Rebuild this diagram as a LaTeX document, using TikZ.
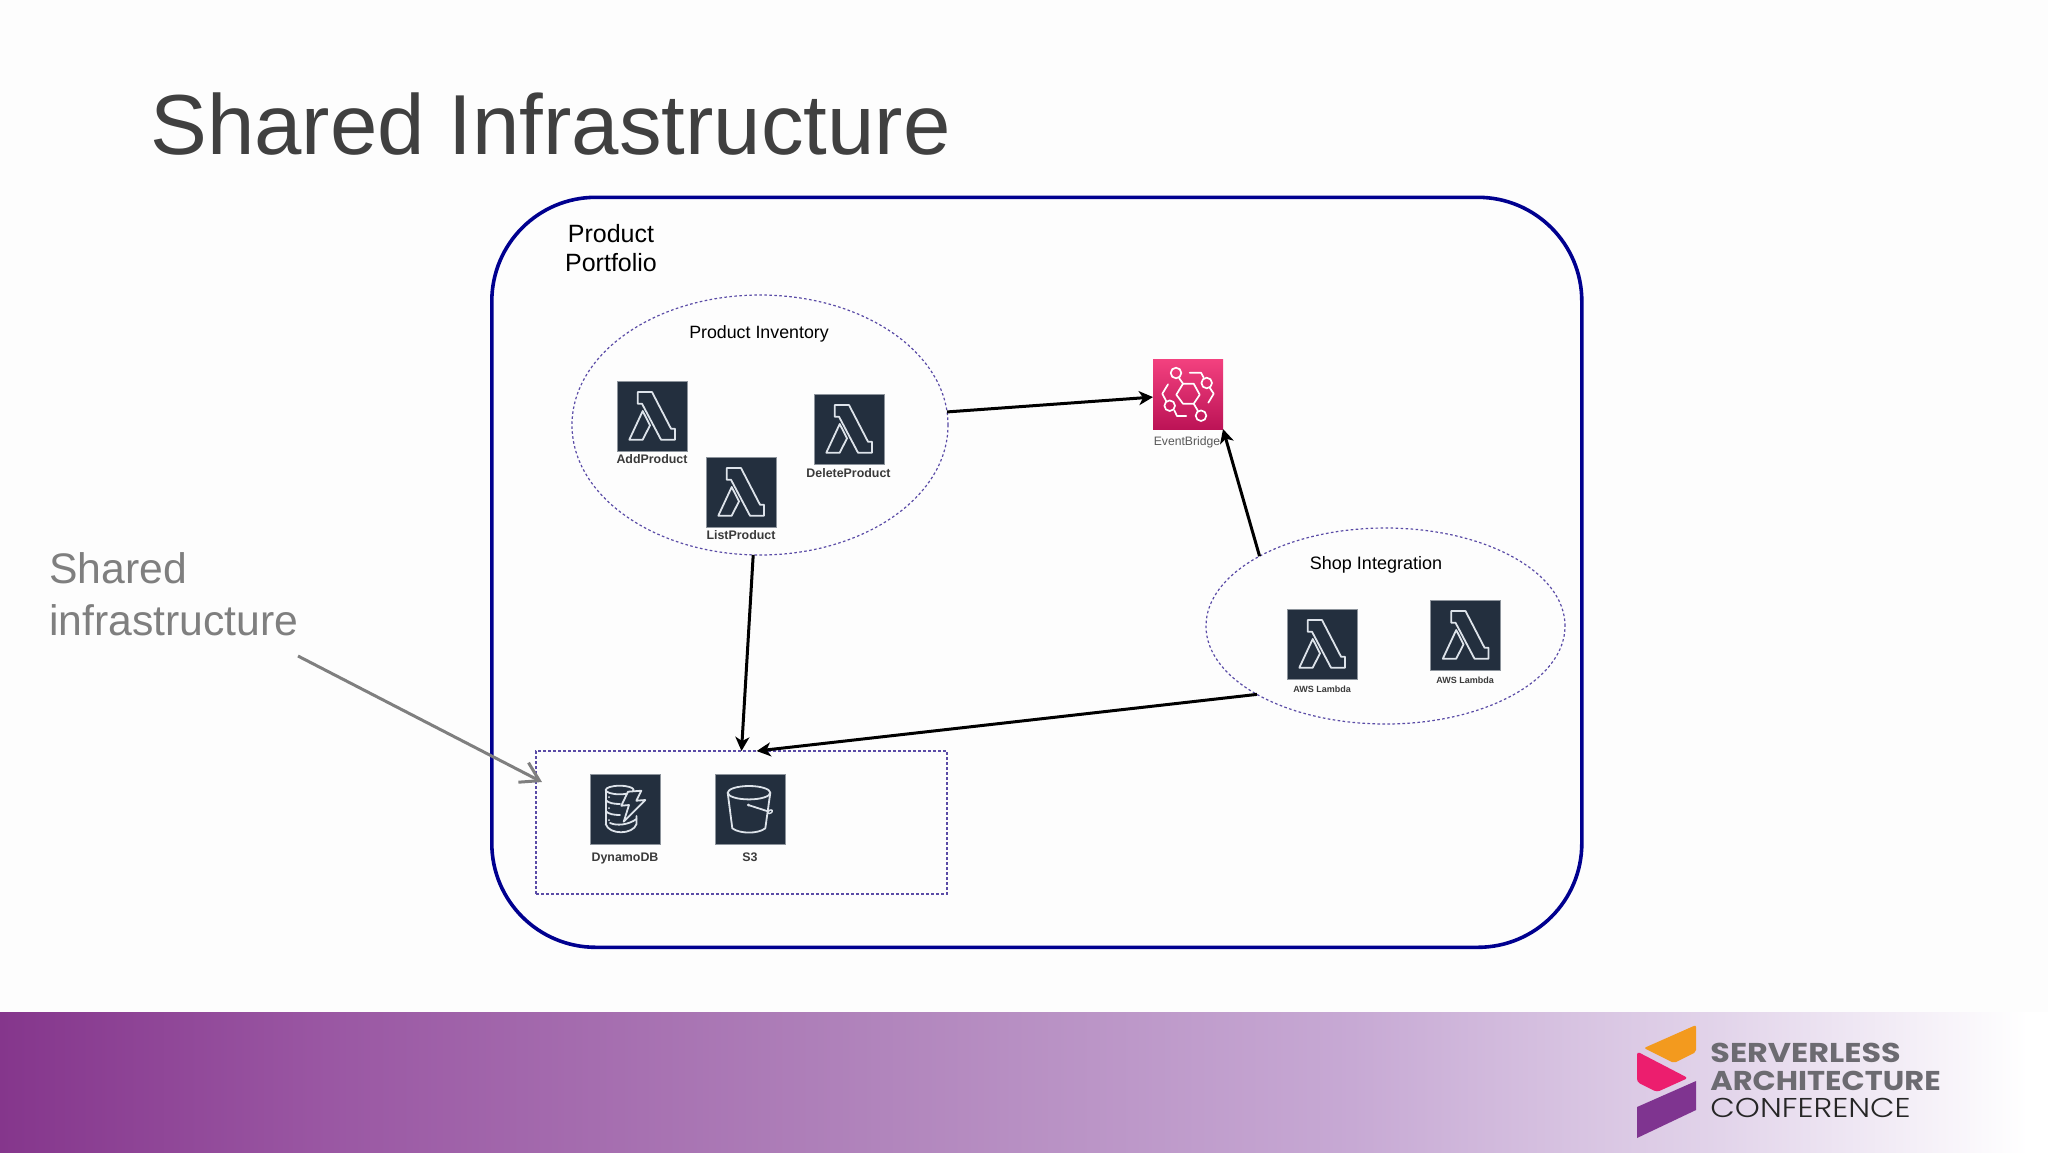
\documentclass[tikz,border=0pt]{standalone}
\usepackage{fontspec}
\setmainfont{Liberation Sans}
\newfontfamily\logoA[FakeStretch=1.17]{Poppins}
\newfontfamily\logoB[FakeStretch=1.12]{Poppins}
\newfontfamily\logoC[FakeStretch=1.17]{Poppins Light}
\usetikzlibrary{arrows.meta,shapes.geometric}
\definecolor{iconbg}{HTML}{232F3E}
\definecolor{iconln}{HTML}{DDE3EA}
\definecolor{iconedge}{HTML}{8D949C}
\definecolor{dots}{HTML}{5A4BA6}
\definecolor{outerblue}{HTML}{00008F}
\definecolor{titlegray}{HTML}{404040}
\definecolor{notegray}{HTML}{7F7F7F}
\definecolor{lblgray}{HTML}{3A3A3A}
\definecolor{logogray}{HTML}{6C6B71}
\definecolor{bandA}{HTML}{85368C}
\definecolor{bandB}{HTML}{9A57A3}
\definecolor{bandC}{HTML}{B083BB}
\definecolor{bandD}{HTML}{C7A9D4}
\definecolor{bandE}{HTML}{E2D4EA}
\definecolor{bandF}{HTML}{FFFFFF}
\definecolor{ebT}{HTML}{F3417F}
\definecolor{ebB}{HTML}{BC1356}
\definecolor{logoO}{HTML}{F39A1E}
\definecolor{logoP}{HTML}{EC1E6E}
\definecolor{logoV}{HTML}{7F3490}
\pgfdeclarehorizontalshading{bandshade}{100bp}{color(0bp)=(bandA);color(25bp)=(bandA);color(33bp)=(bandB);color(46bp)=(bandC);color(58bp)=(bandD);color(67bp)=(bandE);color(74.5bp)=(bandF);color(100bp)=(bandF)}
\pgfdeclareverticalshading{ebshade}{100bp}{color(0bp)=(ebB);color(25bp)=(ebB);color(75bp)=(ebT);color(100bp)=(ebT)}
\tikzset{
  x=0.5pt,y=-0.5pt,
  iconbox/.style={draw=iconedge,line width=0.4pt,fill=iconbg,minimum size=35pt,inner sep=0pt,outer sep=0pt},
  ebbox/.style={shade,shading=ebshade,minimum size=35pt,inner sep=0pt,outer sep=0pt},
  glyph/.style={draw=iconln,line width=0.9pt,line join=round,line cap=round},
  ebglyph/.style={draw=white,line width=0.85pt,line join=round,line cap=round},
  svc/.style={font=\fontsize{6.2}{7}\selectfont\bfseries,text=lblgray,inner sep=0pt},
  svcsmall/.style={font=\fontsize{4.5}{5}\selectfont\bfseries,text=lblgray,inner sep=0pt},
  grp/.style={font=\fontsize{9}{11}\selectfont,text=black,inner sep=0pt},
  dotted group/.style={draw=dots,line width=0.6pt,dash pattern=on 1.3pt off 1.2pt},
  grpell/.style={ellipse,dotted group,inner sep=0pt,outer sep=0pt},
  link/.style={draw=black,line width=1.5pt,-{Stealth[length=7pt,width=7pt,inset=2pt]}},
  lambdaglyph/.pic={
    \draw[glyph] (20.7,11)--(35,11)--(54,47.7)--(58,47.7)--(58,58.7)--(44,58.7)--(25,22.7)--(20.7,22.7)--cycle;
    \draw[glyph] (12.3,58.7)--(25.7,30)--(33,44.3)--(25.7,58.7)--cycle;
  },
  ebglyphs/.pic={
    \draw[ebglyph] (23.3,35.7)--(30,24.7)--(40.7,24.7)--(46.7,35.7)--(40.7,44.7)--(30,44.7)--cycle;
    \draw[ebglyph] (23,14) circle[radius=5.3];
    \draw[ebglyph] (53.7,24) circle[radius=5.3];
    \draw[ebglyph] (16.7,46.7) circle[radius=5.3];
    \draw[ebglyph] (48,56.7) circle[radius=5.3];
    \draw[ebglyph] (26,19)--(30,24.7);
    \draw[ebglyph] (40.7,44.7)--(45,52);
    \draw[ebglyph] (36.7,13.7)--(48,13.7)--(50.7,18.7);
    \draw[ebglyph] (56.7,28.7)--(60.7,34.7)--(55.3,43.7);
    \draw[ebglyph] (15,25.3)--(9.3,34.7)--(13.3,42.3);
    \draw[ebglyph] (21.3,51.3)--(24,57)--(33.3,57);
  },
  dynamoglyph/.pic={
    \draw[glyph] (29.7,16) ellipse[x radius=14,y radius=4.3];
    \draw[glyph] (15.7,16)--(15.7,50);
    \draw[glyph] (15.7,26) .. controls (18,29) and (24,30) .. (30,30);
    \draw[glyph] (15.7,37) .. controls (18,40) and (24,41) .. (30,41);
    \draw[glyph] (15.7,50) .. controls (19,61) and (43,61) .. (46.5,50)--(46.5,42);
    \draw[glyph] (20,49) .. controls (27,52) and (38,51) .. (46.5,45);
    \fill[iconln] (19,23) circle[radius=1] (19,34) circle[radius=1] (19,46) circle[radius=1];
    \draw[glyph,fill=iconbg] (38,17.7)--(51.3,16.7)--(46.3,26.7)--(55.3,26)--(33.7,47.7)--(39,31)--(31.3,31.7)--cycle;
  },
  bucketglyph/.pic={
    \draw[glyph] (34,18.7) ellipse[x radius=21.3,y radius=6.7];
    \draw[glyph] (12.7,18.7)--(17.3,54.3) .. controls (25,60) and (43,60) .. (50.3,54.3)--(55.3,18.7);
    \draw[glyph] (33.3,31)--(53.5,37.5);
    \fill[iconln] (33.3,31) circle[radius=1.5];
    \draw[iconln,line width=0.7pt] (55,37.7) ellipse[x radius=2.5,y radius=1.5,rotate=30];
  },
}
\begin{document}
\begin{tikzpicture}
\useasboundingbox (0,0) rectangle (2048,1152);
\fill[white!99.4!black] (0,0) rectangle (2048,1152);
% band
\shade[shading=bandshade] (0,1012) rectangle (2048,1152);
% title
\node[anchor=base west,inner sep=0pt,text=titlegray,font=\fontsize{42.6}{50}\selectfont] (title) at (150,154.5) {Shared Infrastructure};
% outer container
\node[draw=outerblue,line width=1.8pt,rounded corners=52pt,minimum width=545pt,minimum height=375pt,inner sep=0pt,outer sep=0pt] (outer) at (1036.8,572.3) {};
\node[font=\fontsize{12.5}{14.7}\selectfont,align=center,inner sep=0pt,text=black] (portfolio) at (611,248.3) {Product\\Portfolio};
% groups
\node[grpell,minimum width=188pt,minimum height=130pt] (pi) at (760,425) {};
\node[grp,font=\fontsize{8.9}{11}\selectfont] (pil) at (759,334.3) {Product Inventory};
\node[grpell,minimum width=179.5pt,minimum height=98pt] (si) at (1385.5,626) {};
\node[grp] (sil) at (1376,565.3) {Shop Integration};
\node[dotted group,minimum width=205.5pt,minimum height=71.5pt,inner sep=0pt,outer sep=0pt] (store) at (741.5,822.5) {};
% lambda icons
\node[iconbox] (add) at (652,416) {};
\pic at (add.north west) {lambdaglyph};
\node[svc] (addl) at (652,459) {AddProduct};
\node[iconbox] (del) at (849,429) {};
\pic at (del.north west) {lambdaglyph};
\node[svc] (dell) at (848.5,473.5) {DeleteProduct};
\node[iconbox] (lst) at (741,492) {};
\pic at (lst.north west) {lambdaglyph};
\node[svc] (lstl) at (741,535.3) {ListProduct};
\node[iconbox] (l1) at (1322,644) {};
\pic at (l1.north west) {lambdaglyph};
\node[svcsmall] (l1l) at (1322,689) {AWS Lambda};
\node[iconbox] (l2) at (1465.5,635) {};
\pic at (l2.north west) {lambdaglyph};
\node[svcsmall] (l2l) at (1465,680) {AWS Lambda};
% event bridge
\node[ebbox] (eb) at (1188,394) {};
\pic at (eb.north west) {ebglyphs};
\node[inner sep=0pt,text=black!65,font=\fontsize{6.1}{7}\selectfont] (ebl) at (1187,442) {EventBridge};
% data stores
\node[iconbox] (ddb) at (625,809) {};
\pic at (ddb.north west) {dynamoglyph};
\node[svc] (ddbl) at (625,859) {DynamoDB};
\node[iconbox] (s3) at (750,809) {};
\pic at (s3.north west) {bucketglyph};
\node[svc] (s3l) at (750,857) {S3};
% connectors
\draw[link] (pi.4) -- (eb.185);
\draw[link] (si.151) -- (eb.south east);
\draw[link] (pi.267) -- (store.north);
\draw[link] (si.208.4) -- (store.78);
% note
\node[anchor=north west,align=left,inner sep=0pt,text=notegray,font=\fontsize{21.35}{26}\selectfont] (note) at (49,552) {Shared\\infrastructure};
\coordinate (notefrom) at (298,656);
\coordinate (noteto) at (542,782);
\draw[draw=notegray,line width=1.5pt,-{Straight Barb[length=9pt,width=11pt]}] (notefrom) -- (noteto);
% logo
\fill[rounded corners=1pt,fill=logoO] (1644,1048)--(1696,1025)--(1696,1052)--(1674,1063)--cycle;
\fill[rounded corners=1.5pt,fill=logoP] (1637,1051.5)--(1688,1078)--(1657,1092)--(1637,1082)--cycle;
\fill[fill=logoV] (1637,1107)--(1696,1081)--(1696,1110)--(1637,1138)--cycle;
\node[anchor=base west,inner sep=0pt,text=logogray,font=\logoA\bfseries\fontsize{13.6}{16}\selectfont] (lg1) at (1710,1062) {SERVERLESS};
\node[anchor=base west,inner sep=0pt,text=logogray,font=\logoB\bfseries\fontsize{13.6}{16}\selectfont] (lg2) at (1710,1090) {ARCHITECTURE};
\node[anchor=base west,inner sep=0pt,text=black!85,font=\logoC\fontsize{13.6}{16}\selectfont] (lg3) at (1710,1117) {CONFERENCE};
\end{tikzpicture}
\end{document}
